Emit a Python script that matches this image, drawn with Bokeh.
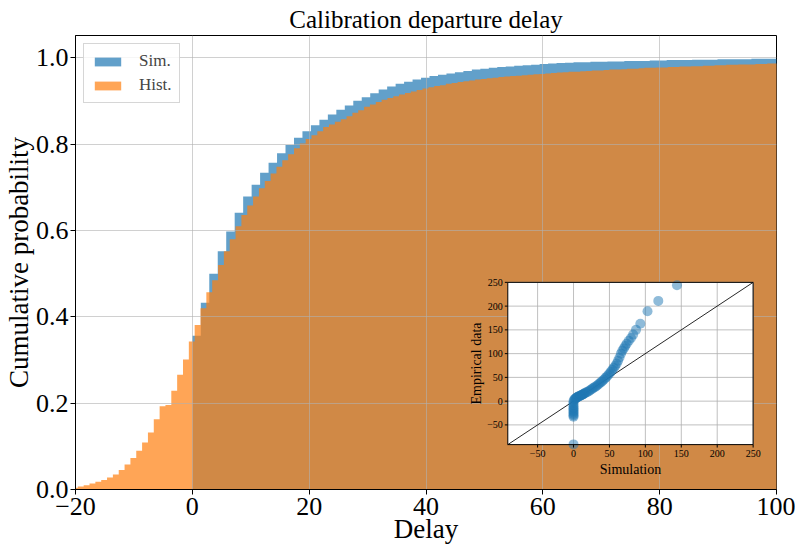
import numpy as np
from bokeh.plotting import figure
from bokeh.models import Range1d, FixedTicker, Legend, LegendItem
from bokeh.embed import file_html
from bokeh.resources import INLINE
from bokeh.core.properties import value

# ---------------- data ----------------
# simulated delays: cumulative histogram, bins of width 1.45 starting at 0
sim_bin_start = 0.0
sim_bin_width = 1.45
sim_cdf = [0.356, 0.433, 0.500, 0.552, 0.598, 0.641, 0.679, 0.706, 0.734, 0.757,
           0.779, 0.798, 0.815, 0.830, 0.844, 0.857, 0.869, 0.880, 0.890, 0.901,
           0.909, 0.918, 0.927, 0.934, 0.940, 0.945, 0.950, 0.954, 0.958, 0.961,
           0.964, 0.967, 0.970, 0.973, 0.975, 0.977, 0.979, 0.980, 0.982, 0.983,
           0.984, 0.986, 0.987, 0.988, 0.989, 0.990, 0.990, 0.991, 0.991, 0.992,
           0.992, 0.993, 0.993, 0.993, 0.994, 0.994, 0.995, 0.995, 0.995, 0.996,
           0.996, 0.996, 0.997, 0.997, 0.997, 0.997, 0.998, 0.998, 0.998]

# historical delays: cumulative histogram, bins of width 1 starting at -20.6
hist_bin_start = -20.6
hist_bin_width = 1.0
hist_cdf = [0.004, 0.007, 0.010, 0.014, 0.018, 0.022, 0.028, 0.035, 0.045, 0.058,
            0.073, 0.090, 0.109, 0.132, 0.163, 0.193, 0.196, 0.229, 0.266, 0.301,
            0.343,
            0.381, 0.420, 0.457, 0.485, 0.520, 0.552, 0.580, 0.610, 0.636, 0.658,
            0.679, 0.698, 0.715, 0.732, 0.748, 0.763, 0.777, 0.791, 0.802, 0.812,
            0.821, 0.830, 0.840, 0.846, 0.852, 0.858, 0.865, 0.873, 0.879, 0.887,
            0.892, 0.898, 0.903, 0.907, 0.911, 0.915, 0.919, 0.922, 0.926, 0.929,
            0.932, 0.935, 0.937, 0.940, 0.942, 0.944, 0.946, 0.948, 0.950, 0.951,
            0.953, 0.954, 0.956, 0.957, 0.958, 0.959, 0.960, 0.961, 0.962, 0.963,
            0.964, 0.965, 0.966, 0.967, 0.968, 0.968, 0.969, 0.970, 0.971, 0.971,
            0.972, 0.973, 0.973, 0.974, 0.975, 0.975, 0.976, 0.977, 0.977, 0.978,
            0.978, 0.979, 0.979, 0.980, 0.980, 0.981, 0.981, 0.982, 0.982, 0.983,
            0.983, 0.984, 0.984, 0.985, 0.985, 0.985, 0.986, 0.986, 0.987, 0.987]

x_ticks = [-20, 0, 20, 40, 60, 80, 100]
y_ticks = [0.0, 0.2, 0.4, 0.6, 0.8, 1.0]

# inset: quantile-quantile pairs (simulation vs empirical)
qq_sim = [0, 0, 0, 0, 0, 0, 0, 0, 0, 0, 0, 0,
          1, 2, 3, 4, 5, 6, 7, 8, 9, 10, 11, 12, 13, 14, 15, 16,
          18, 20, 22, 24, 26, 28, 30, 32, 34, 36, 38, 40, 42, 44, 46, 48, 50,
          52, 54, 56, 58, 60, 62, 64, 66, 68, 70, 72, 74,
          77, 80, 83, 87, 93, 103, 118, 144]
qq_emp = [-91, -33, -30, -27, -24, -21, -18, -15, -12, -8, -4, 0,
          3, 5, 6, 7, 8, 9, 10, 10.5, 11, 12, 13, 13.5, 14, 15, 16, 17,
          18.5, 20, 22, 24, 26, 28, 30, 32, 34.5, 37, 39.5, 42, 45, 48, 51, 54.5, 58,
          62, 66, 70, 74, 79, 85, 92, 100, 106, 111, 116, 121,
          127, 133, 140, 150, 163, 189, 211, 244]
qq_ticks = [-50, 0, 50, 100, 150, 200, 250]
qq_lo, qq_hi = -91.5, 250.0

# ---------------- styling ----------------
FONT = "Liberation Serif"
BLUE = "#1f77b4"
ORANGE = "#ff7f0e"


def step_outline(start, width, cdf):
    cdf = np.asarray(cdf, dtype=float)
    edges = start + width * np.arange(len(cdf) + 1)
    xs = np.repeat(edges, 2)
    ys = np.concatenate([[0.0], np.repeat(cdf, 2), [0.0]])
    return xs, ys


def minus(t):
    return str(t).replace("-", "\u2212")


p = figure(width=795, height=546, x_range=Range1d(-20, 100), y_range=Range1d(0, 1.052),
           output_backend="svg", toolbar_location=None,
           title="Calibration departure delay",
           min_border_left=75, min_border_right=19, min_border_top=35, min_border_bottom=55)
p.background_fill_color = "white"
p.border_fill_color = "white"
p.outline_line_color = "black"
p.outline_line_width = 1

p.title.text_font = FONT
p.title.text_font_size = "25px"
p.title.text_font_style = "normal"
p.title.text_color = "black"
p.title.align = "center"
p.title.standoff = 5

sx, sy = step_outline(sim_bin_start, sim_bin_width, sim_cdf)
hx, hy = step_outline(hist_bin_start, hist_bin_width, hist_cdf)
r_sim = p.patch(sx, sy, fill_color=BLUE, fill_alpha=0.7, line_color=None, level="underlay")
r_hist = p.patch(hx, hy, fill_color=ORANGE, fill_alpha=0.7, line_color=None, level="underlay")

p.xaxis.ticker = FixedTicker(ticks=x_ticks)
p.yaxis.ticker = FixedTicker(ticks=y_ticks)
p.xaxis.major_label_overrides = {t: minus(t) for t in x_ticks}
p.yaxis.major_label_overrides = {t: f"{t:.1f}" for t in y_ticks}
p.xaxis.axis_label = "Delay"
p.yaxis.axis_label = "Cumulative probability"
for ax in (p.xaxis[0], p.yaxis[0]):
    ax.major_label_text_font = FONT
    ax.major_label_text_font_size = "26px"
    ax.major_label_text_color = "black"
    ax.axis_label_text_font = FONT
    ax.axis_label_text_font_size = "27px"
    ax.axis_label_text_font_style = "normal"
    ax.axis_label_text_color = "black"
    ax.major_tick_out = 5
    ax.major_tick_in = 0
    ax.minor_tick_out = 0
    ax.minor_tick_in = 0
    ax.major_label_standoff = 3
    ax.axis_line_color = "black"
    ax.major_tick_line_color = "black"
p.yaxis.major_label_standoff = 2
p.xaxis.axis_label_standoff = -4
p.yaxis.axis_label_standoff = -1

p.grid.grid_line_color = "#b0b0b0"
p.grid.grid_line_alpha = 0.6
p.grid.grid_line_width = 1
p.grid.level = "glyph"

legend = Legend(items=[LegendItem(label="Sim.", renderers=[r_sim]),
                       LegendItem(label="Hist.", renderers=[r_hist])],
                location="top_left")
legend.label_text_font = FONT
legend.label_text_font_size = "17px"
legend.glyph_width = 33
legend.glyph_height = 11
legend.label_standoff = 15
legend.padding = 7
legend.spacing = 4
legend.margin = 8
legend.border_line_color = "#cccccc"
legend.border_line_alpha = 0.8
legend.background_fill_alpha = 0.8
p.add_layout(legend)

# ---------------- inset (QQ plot) ----------------
sub = p.subplot(x_source=Range1d(qq_lo, qq_hi), y_source=Range1d(qq_lo, qq_hi),
                x_target=Range1d(54.0, 96.0), y_target=Range1d(0.104, 0.480))
L = "annotation"
sub.quad(left=qq_lo, right=qq_hi, bottom=qq_lo, top=qq_hi,
         fill_color="white", line_color=None, level=L)
sub.segment(x0=qq_ticks, y0=qq_lo, x1=qq_ticks, y1=qq_hi,
            line_color="#b0b0b0", line_width=1, line_alpha=0.8, level=L)
sub.segment(x0=qq_lo, y0=qq_ticks, x1=qq_hi, y1=qq_ticks,
            line_color="#b0b0b0", line_width=1, line_alpha=0.8, level=L)
sub.line(x=[qq_lo, qq_hi], y=[qq_lo, qq_hi], line_color="black", line_width=1,
         line_alpha=0.85, level=L)
sub.scatter(x=qq_sim, y=qq_emp, size=10, fill_color=BLUE, fill_alpha=0.5,
            line_color=None, level=L)
sub.quad(left=qq_lo, right=qq_hi, bottom=qq_lo, top=qq_hi,
         fill_color=None, line_color="black", line_width=1, level=L)
tdx = 0.012 * (qq_hi - qq_lo)
tdy = 0.018 * (qq_hi - qq_lo)
sub.segment(x0=qq_ticks, y0=qq_lo, x1=qq_ticks, y1=qq_lo - tdy,
            line_color="black", line_width=1, level=L)
sub.segment(x0=qq_lo, y0=qq_ticks, x1=qq_lo - tdx, y1=qq_ticks,
            line_color="black", line_width=1, level=L)
qq_labels = [minus(t) for t in qq_ticks]
sub.text(x=qq_ticks, y=qq_lo, text=qq_labels, text_align="center", text_baseline="top",
         y_offset=5, text_font=value(FONT), text_font_size=value("10px"),
         text_color="black", level=L)
sub.text(x=qq_lo, y=qq_ticks, text=qq_labels, text_align="right", text_baseline="middle",
         x_offset=-5, text_font=value(FONT), text_font_size=value("10px"),
         text_color="black", level=L)
sub.text(x=[(qq_lo + qq_hi) / 2], y=[qq_lo], text=["Simulation"], text_align="center",
         text_baseline="top", y_offset=17, text_font=value(FONT),
         text_font_size=value("14px"), text_color="black", level=L)
sub.text(x=[qq_lo], y=[(qq_lo + qq_hi) / 2], text=["Empirical data"], angle=np.pi / 2,
         text_align="center", text_baseline="bottom", x_offset=-24, text_font=value(FONT),
         text_font_size=value("14px"), text_color="black", level=L)

open("out.html", "w").write(file_html(p, INLINE))
